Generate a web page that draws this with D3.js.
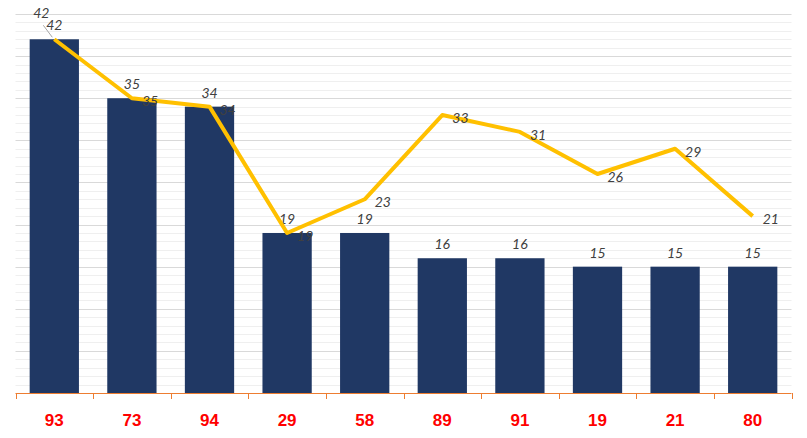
<!DOCTYPE html>
<html><head><meta charset="utf-8">
<script src="https://cdn.jsdelivr.net/npm/d3@7"></script>
<style>body{margin:0;background:#fff;}svg{display:block;}</style>
</head><body>
<svg id="c" width="807" height="438"></svg>
<script>
const categories = ["93","73","94","29","58","89","91","19","21","80"];
const barValues = [42,35,34,19,19,16,16,15,15,15];
const lineValues = [42,35,34,19,23,33,31,26,29,21];
const yMax = 45;

const W = 807, H = 438;
const m = {left:15.5, right:15.5, top:14, bottom:45};
const svg = d3.select("#c");
const x = d3.scaleBand().domain(categories).range([m.left, W - m.right]).paddingInner(0.365).paddingOuter(0.1825);
const xt = d3.scaleBand().domain(categories).range([m.left, W - m.right]);
const y = d3.scaleLinear().domain([0, yMax]).range([H - m.bottom, m.top]);
const labelFont = "Lato, 'DejaVu Sans', sans-serif";

// gridlines
const g = svg.append("g");
g.selectAll("line.minor").data(d3.range(1, yMax + 1).filter(v => v % 5 !== 0)).join("line")
  .attr("x1", m.left).attr("x2", W - m.right)
  .attr("y1", d => Math.round(y(d)) + 0.5).attr("y2", d => Math.round(y(d)) + 0.5)
  .attr("stroke", "#efefef").attr("stroke-width", 1);
g.selectAll("line.major").data(d3.range(5, yMax + 1, 5)).join("line")
  .attr("x1", m.left).attr("x2", W - m.right)
  .attr("y1", d => Math.round(y(d)) + 0.5).attr("y2", d => Math.round(y(d)) + 0.5)
  .attr("stroke", "#d9d9d9").attr("stroke-width", 1);

// bars
svg.append("g").selectAll("rect").data(categories).join("rect")
  .attr("x", d => x(d)).attr("width", x.bandwidth())
  .attr("y", (d, i) => y(barValues[i])).attr("height", (d, i) => y(0) - y(barValues[i]))
  .attr("fill", "#203864");

// bar labels
svg.append("g").selectAll("text").data(categories).join("text")
  .attr("x", d => x(d) + x.bandwidth() / 2)
  .attr("y", (d, i) => y(barValues[i]) - 9)
  .attr("text-anchor", "middle")
  .attr("font-family", labelFont).attr("font-style", "italic")
  .attr("font-size", 14).attr("fill", "#404040")
  .text((d, i) => barValues[i]);

// line
const cx = d => xt(d) + xt.bandwidth() / 2;
svg.append("path").datum(categories)
  .attr("d", d3.line().x(d => cx(d)).y((d, i) => y(lineValues[i])))
  .attr("fill", "none").attr("stroke", "#ffc000").attr("stroke-width", 4).attr("stroke-linejoin", "round");

// line labels
const ll = svg.append("g");
categories.forEach((d, i) => {
  const px = cx(d), py = y(lineValues[i]);
  if (i === 0) {
    ll.append("line").attr("x1", px - 2).attr("y1", py - 2).attr("x2", px - 11).attr("y2", py - 14)
      .attr("stroke", "#a6a6a6").attr("stroke-width", 1);
    ll.append("text").attr("x", px - 13).attr("y", py - 21).attr("text-anchor", "middle")
      .attr("font-family", labelFont).attr("font-style", "italic")
      .attr("font-size", 14).attr("fill", "#404040").text(lineValues[i]);
  } else {
    ll.append("text").attr("x", px + 10).attr("y", py + 8)
      .attr("font-family", labelFont).attr("font-style", "italic")
      .attr("font-size", 14).attr("fill", "#404040").text(lineValues[i]);
  }
});

// x axis
const ax = svg.append("g").attr("transform", `translate(0,${y(0)})`);
ax.append("line").attr("x1", m.left).attr("x2", W - m.right).attr("y1", 0.5).attr("y2", 0.5)
  .attr("stroke", "#ed7d31").attr("stroke-width", 1);
ax.selectAll("line.tk").data(categories.concat(["__end"])).join("line")
  .attr("x1", (d, i) => Math.round(m.left + i * xt.step()) + 0.5)
  .attr("x2", (d, i) => Math.round(m.left + i * xt.step()) + 0.5)
  .attr("y1", 0).attr("y2", 6).attr("stroke", "#ed7d31");
ax.selectAll("text").data(categories).join("text")
  .attr("x", d => cx(d)).attr("y", 32.5)
  .attr("text-anchor", "middle")
  .attr("font-family", "'Liberation Sans', Arial, sans-serif").attr("font-weight", "bold")
  .attr("font-size", 17).attr("fill", "#ff0000").text(d => d);
</script>
</body></html>
